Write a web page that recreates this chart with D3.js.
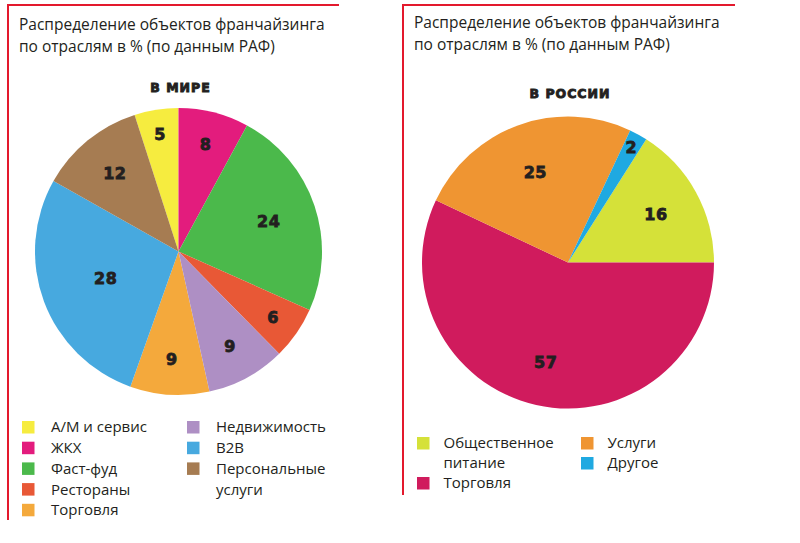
<!DOCTYPE html>
<html><head><meta charset="utf-8">
<script src="https://cdn.jsdelivr.net/npm/d3@7"></script>
<style>body{margin:0;background:#fff}</style>
</head><body>
<script>
// ---- Data ----
const titleLines = ["Распределение объектов франчайзинга", "по отраслям в % (по данным РАФ)"];

const worldTitle = "В МИРЕ";
const worldCategories = ["А/М и сервис", "ЖКХ", "Фаст-фуд", "Рестораны", "Торговля", "Недвижимость", "B2B", "Персональные услуги"];
const worldValues = [5, 8, 24, 6, 9, 9, 28, 12];
const worldColors = ["#f6ec3f", "#e31c7d", "#4bb94b", "#e85836", "#f4a93c", "#ae8fc4", "#47a9df", "#a67c52"];
const worldPieOrder = ["А/М и сервис", "ЖКХ", "Фаст-фуд", "Рестораны", "Недвижимость", "Торговля", "B2B", "Персональные услуги"];
const worldLegendLines = [["А/М и сервис"], ["ЖКХ"], ["Фаст-фуд"], ["Рестораны"], ["Торговля"], ["Недвижимость"], ["B2B"], ["Персональные", "услуги"]];

const rusTitle = "В РОССИИ";
const rusCategories = ["Общественное питание", "Торговля", "Услуги", "Другое"];
const rusValues = [16, 57, 25, 2];
const rusColors = ["#d5e139", "#d01b5d", "#ef9532", "#1fa9e1"];
const rusPieOrder = ["Торговля", "Услуги", "Другое", "Общественное питание"];
const rusLegendLines = [["Общественное", "питание"], ["Торговля"], ["Услуги"], ["Другое"]];

// ---- Drawing ----
const W = 800, H = 543;
const svg = d3.select("body").append("svg").attr("width", W).attr("height", H);
const red = "#e3192d", ink = "#231f20";
const textFont = "'Open Sans', 'Noto Sans', sans-serif";
const numFont = "'DejaVu Sans', sans-serif";

const labelR = d3.scaleLinear().domain([0.02, 0.06, 0.12, 0.25, 0.28, 0.57]).range([0.9, 0.8, 0.7, 0.66, 0.53, 0.7]).clamp(true);

function panel(cfg) {
  const g = svg.append("g");
  // frame
  g.append("line").attr("x1", cfg.fx).attr("x2", cfg.fx2).attr("y1", 5).attr("y2", 5)
    .attr("stroke", red).attr("stroke-width", 2);
  g.append("line").attr("x1", cfg.fx).attr("x2", cfg.fx).attr("y1", 4).attr("y2", cfg.fy2)
    .attr("stroke", red).attr("stroke-width", 2);
  // title
  titleLines.forEach((t, i) => {
    g.append("text").attr("x", cfg.tx).attr("y", cfg.ty + i * 22)
      .attr("font-family", textFont).attr("font-size", 15.5).attr("fill", ink).text(t);
  });
  // subtitle
  g.append("text").attr("x", cfg.cx + 2).attr("y", cfg.sy).attr("text-anchor", "middle")
    .attr("font-family", numFont).attr("font-weight", "bold").attr("font-size", 12.5)
    .attr("letter-spacing", 1.0).attr("stroke", ink).attr("stroke-width", 0.9)
    .attr("fill", ink).text(cfg.sub);

  const color = d3.scaleOrdinal().domain(cfg.categories).range(cfg.colors);
  const data = cfg.categories.map((c, i) => ({ cat: c, value: cfg.values[i] }));
  const total = d3.sum(cfg.values);
  const pie = d3.pie().value(d => d.value)
    .sort((a, b) => cfg.order.indexOf(a.cat) - cfg.order.indexOf(b.cat))
    .startAngle(cfg.start).endAngle(cfg.start + 2 * Math.PI);
  const arcs = pie(data);
  const arc = d3.arc().innerRadius(0).outerRadius(cfg.r);
  const pg = g.append("g").attr("transform", `translate(${cfg.cx},${cfg.cy})`);
  pg.selectAll("path").data(arcs).join("path").attr("d", arc).attr("fill", d => color(d.data.cat));
  pg.selectAll("text").data(arcs).join("text")
    .attr("transform", d => {
      const rr = cfg.r * labelR(d.data.value / total);
      const c = d3.arc().innerRadius(rr).outerRadius(rr).centroid(d);
      return `translate(${c[0]},${c[1]})`;
    })
    .attr("text-anchor", "middle").attr("dy", "0.36em")
    .attr("font-family", numFont).attr("font-weight", "bold").attr("font-size", 16)
    .attr("letter-spacing", 0.5).attr("stroke", ink).attr("stroke-width", 0.8)
    .attr("fill", ink).text(d => d.data.value);

  // legend
  const lg = g.append("g");
  cfg.categories.forEach((c, i) => {
    const col = cfg.legendCol[i], row = cfg.legendRow[i];
    const x = cfg.lx[col], y = cfg.ly + row * cfg.lstep;
    lg.append("rect").attr("x", x).attr("y", y - 6).attr("width", 12.5).attr("height", 12.5).attr("fill", color(c));
    cfg.legendLines[i].forEach((t, j) => {
      lg.append("text").attr("x", x + cfg.ltext).attr("y", y + (j) * cfg.lstep).attr("dy", "0.36em")
        .attr("font-family", textFont).attr("font-size", 15).attr("fill", ink).text(t);
    });
  });
}

panel({
  fx: 8, fx2: 339, fy2: 520, tx: 19, ty: 30, cx: 178.5, cy: 251.5, r: 143.5, sy: 92,
  sub: worldTitle, categories: worldCategories, values: worldValues, colors: worldColors,
  order: worldPieOrder, start: -2 * Math.PI * 5 / d3.sum(worldValues),
  legendLines: worldLegendLines,
  legendCol: [0, 0, 0, 0, 0, 1, 1, 1], legendRow: [0, 1, 2, 3, 4, 0, 1, 2],
  lx: [22, 187], ly: 427, lstep: 20.7, ltext: 29
});

panel({
  fx: 403, fx2: 735, fy2: 495, tx: 414, ty: 28, cx: 568, cy: 262.5, r: 146, sy: 97.5,
  sub: rusTitle, categories: rusCategories, values: rusValues, colors: rusColors,
  order: rusPieOrder, start: Math.PI / 2,
  legendLines: rusLegendLines,
  legendCol: [0, 0, 1, 1], legendRow: [0, 2, 0, 1],
  lx: [417, 581], ly: 443, lstep: 20, ltext: 26.5
});
</script>
</body></html>
